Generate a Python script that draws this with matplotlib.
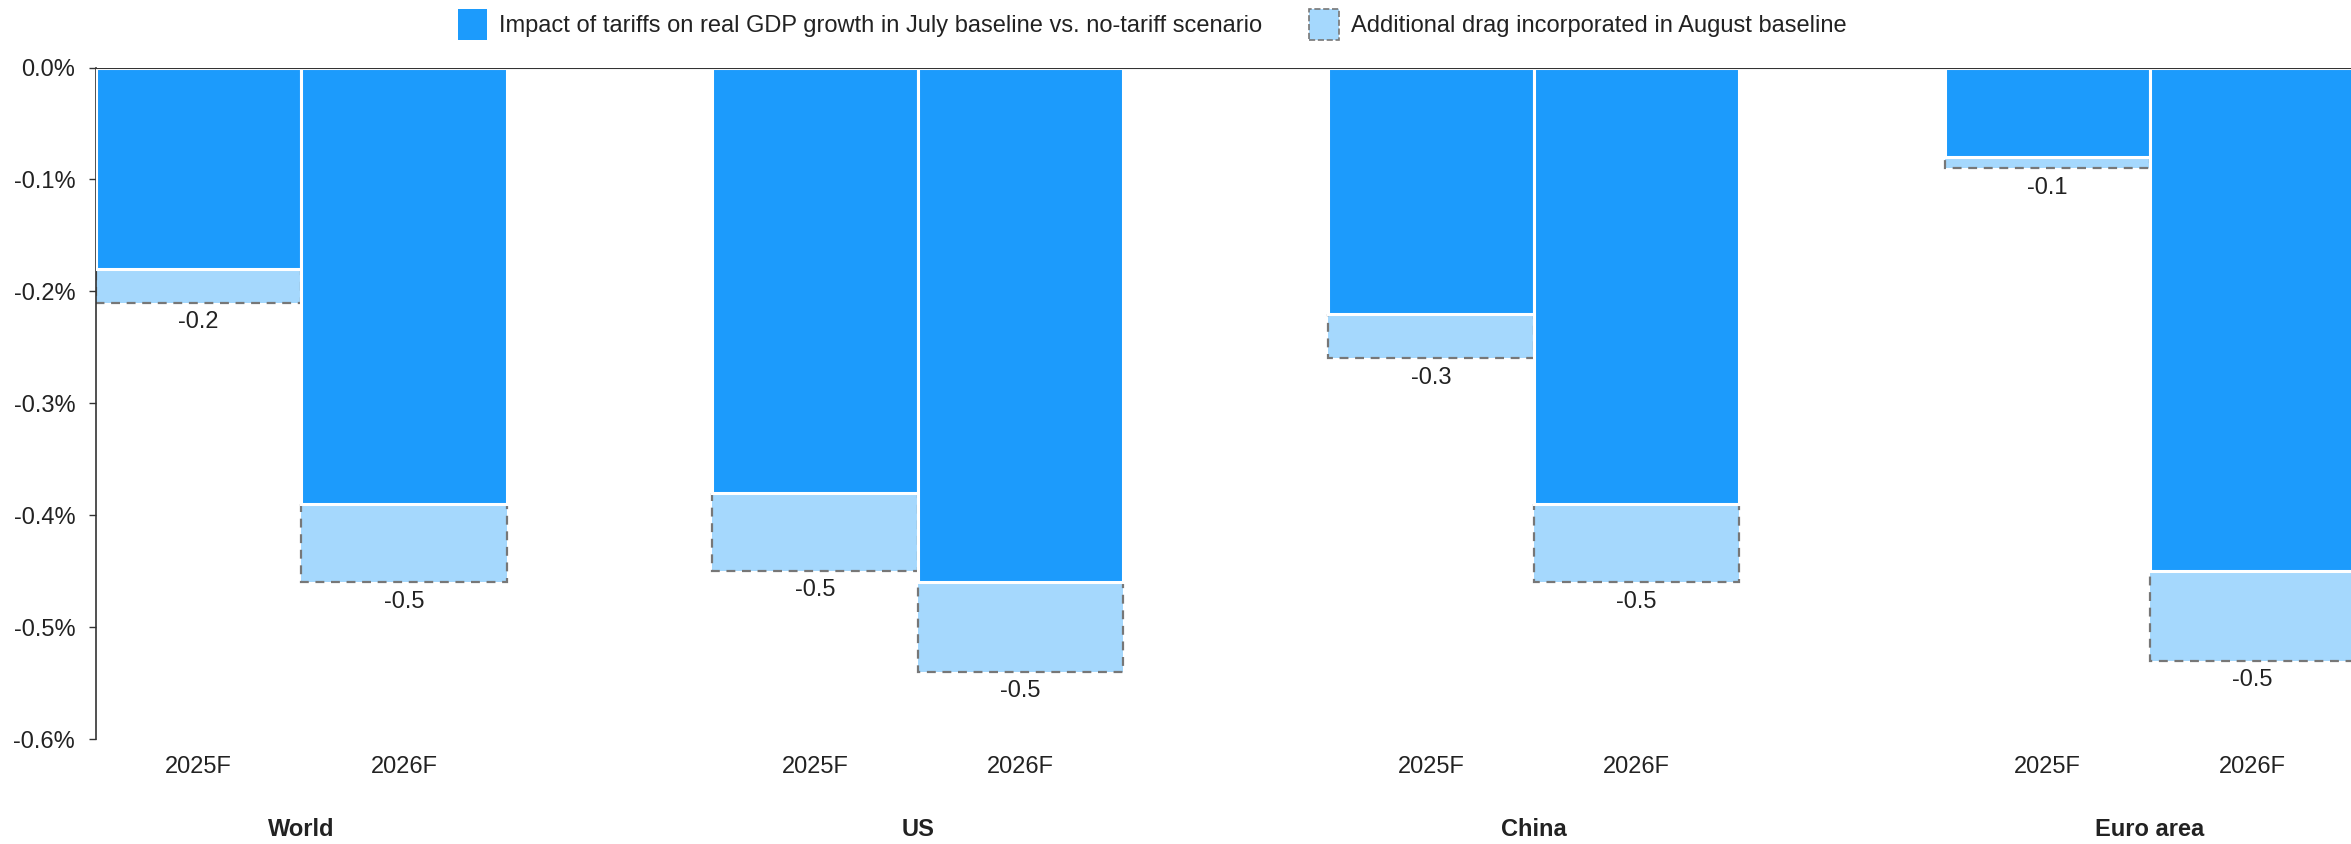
import numpy as np
import matplotlib.pyplot as plt
from matplotlib.patches import Patch

# tariff impact on real GDP growth, % pts
regions = ['World', 'US', 'China', 'Euro area']
years = ['2025F', '2026F']
july_impact = [-0.18, -0.39, -0.38, -0.46, -0.22, -0.39, -0.08, -0.45]
august_total = [-0.21, -0.46, -0.45, -0.54, -0.26, -0.46, -0.09, -0.53]
y_ticks = [-0.6, -0.5, -0.4, -0.3, -0.2, -0.1, 0.0]

dark = '#1c9bfc'
light = '#a5d8fd'
edge = '#777777'
txt = '#222222'

plt.rcParams['font.family'] = ['Liberation Sans', 'DejaVu Sans']
plt.rcParams['text.color'] = txt

W, H = 2351, 844
left = 96
fig = plt.figure(figsize=(W / 100, H / 100), dpi=100)
ax = fig.add_axes([left / W, 1 - 739 / H, 1 - left / W, (739 - 67.5) / H])

x = np.array([3 * g + b + 0.5 for g in range(len(regions)) for b in range(len(years))])
extra = np.array(august_total) - np.array(july_impact)

ax.bar(x, extra, width=1, bottom=july_impact, color=light, edgecolor=edge,
       linestyle=(0, (4, 3)), linewidth=1.6, zorder=2)
ax.bar(x, july_impact, width=1, color=dark, edgecolor='white', linewidth=2.2, zorder=3)

for xi, v in zip(x, august_total):
    ax.annotate(f'{v:.1f}', (xi, v), xytext=(0, -6), textcoords='offset points',
                ha='center', va='top', fontsize=17, color=txt)

ax.set_xlim(0, (W - left) / 205.4)
ax.set_ylim(-0.6, 0)
ax.axhline(0, color='#333333', linewidth=1.5, zorder=4)

ax.set_yticks(y_ticks)
ax.set_yticklabels([f'{abs(t):.1f}%' if t == 0 else f'{t:.1f}%' for t in y_ticks])
ax.tick_params(axis='y', length=5, width=1, color='#333333', pad=10, labelsize=17, labelcolor=txt)
ax.set_xticks(x, years * len(regions))
ax.tick_params(axis='x', length=0, pad=12, labelsize=17, labelcolor=txt)

for s in ['top', 'right', 'bottom']:
    ax.spines[s].set_visible(False)
ax.spines['left'].set_color('#333333')
ax.spines['left'].set_linewidth(1.2)

for g, name in enumerate(regions):
    ax.annotate(name, (3 * g + 1, 0), xycoords=('data', 'axes fraction'),
                xytext=(0, -65), textcoords='offset points', ha='center', va='center',
                fontsize=17, fontweight='bold', color=txt)

handles = [Patch(facecolor=dark, edgecolor='none'),
           Patch(facecolor=light, edgecolor=edge, linestyle='--', linewidth=1.2)]
labels = ['Impact of tariffs on real GDP growth in July baseline vs. no-tariff scenario',
          'Additional drag incorporated in August baseline']
fig.legend(handles, labels, loc='upper center', bbox_to_anchor=(1152 / W, 1.0), ncol=2,
           frameon=False, fontsize=17, handlelength=1.25, handleheight=1.6,
           columnspacing=2.0, handletextpad=0.5, borderaxespad=0.0)

fig.savefig('out.png', dpi=100)
